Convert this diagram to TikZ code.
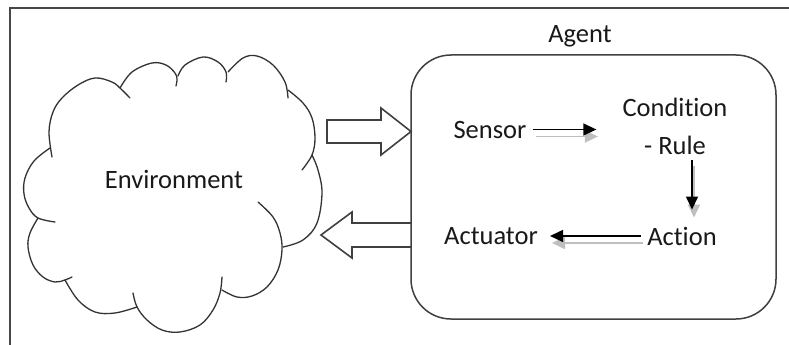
\documentclass[tikz,border=0pt]{standalone}
\usepackage{fontspec}
\setmainfont{Carlito}[Ligatures=NoCommon]
\usetikzlibrary{arrows.meta}
\begin{document}
\begin{tikzpicture}[x=1pt,y=-1pt,
  lbl/.style={font=\fontsize{26.5}{38}\selectfont, inner sep=6pt, text=black!90},
  puff/.style={line width=1.3pt, draw=black!80, line cap=round, smooth, tension=0.6},
  blockarrow/.style={line width=1.6pt, draw=black!75, line join=miter},
  flow/.style={line width=1.4pt, draw=black, -{Triangle[length=13pt,width=12pt]}},
  flowshadow/.style={line width=1.8pt, draw=black!25, -{Triangle[length=13pt,width=12pt]}},
]
\useasboundingbox (0,0) rectangle (789,345);
\fill[white] (0,0) rectangle (789,345);

% outer frame
\draw[line width=2.3pt, draw=black!72] (10,345) -- (10,8) -- (789,8);

% environment cloud, one stroke per puff
\draw[puff] plot coordinates {(55,222) (38,218) (29,208) (24,194) (25,178) (34,161) (50,148)};
\draw[puff] plot coordinates {(52,157) (49,132) (53,112) (62,98) (78,85) (95,78) (112,82) (121,89) (130,98)};
\draw[puff] plot coordinates {(120,88) (132,72) (152,63) (166,65) (175,73) (177,79) (176,86)};
\draw[puff] plot coordinates {(178,76) (185,65) (203,57) (218,62) (226,72) (226,82)};
\draw[puff] plot coordinates {(228,72) (243,58) (257,56) (273,65) (285,82) (288,98)};
\draw[puff] plot coordinates {(288,90) (303,103) (312,118) (315,138) (312,155) (302,170)};
\draw[puff] plot coordinates {(312,155) (318,170) (322,193) (317,223) (303,240) (283,247)};
\draw[puff] plot coordinates {(258,202) (273,217) (280,233) (282,250) (278,270) (267,287) (252,296) (237,297) (222,290)};
\draw[puff] plot coordinates {(222,277) (220,293) (213,310) (200,325) (180,332) (162,330) (147,320) (137,307) (133,293)};
\draw[puff] plot coordinates {(137,307) (115,313) (95,312) (78,300) (65,280)};
\draw[puff] plot coordinates {(38,218) (30,233) (28,247) (33,265) (43,277) (55,282) (65,280) (72,277)};
\node[lbl, anchor=base] (env) at (174,188) {Environment};

% agent box
\draw[line width=1.5pt, draw=black!75, rounded corners=40pt] (411,55) rectangle (776,319);
\node[lbl, anchor=base] (agent) at (580,43) {Agent};

% percepts into the agent, actions out of it
\draw[blockarrow] (327,120) -- (381,120) -- (381,108) -- (411,131.5) -- (381,155) -- (381,143) -- (327,143) -- cycle;
\draw[blockarrow] (411,223) -- (352,223) -- (352,212) -- (321,235) -- (352,258) -- (352,247) -- (411,247);

% inner components
\node[lbl, anchor=base] (sensor) at (490,138) {Sensor};
\node[lbl, anchor=base, align=center] (cond) at (675,154) {Condition\\- Rule};
\node[lbl, anchor=base] (action) at (682,245) {Action};
\node[lbl, anchor=base] (actuator) at (491,244) {Actuator};

% inner flow with soft shadows
\draw[flowshadow, shorten >=20pt, shorten <=2pt] ([shift={(1.5,7)}]sensor.east) -- ([shift={(1.5,7)}]sensor.east -| cond.west);
\draw[flow, shorten >=20pt] (sensor.east) -- (sensor.east -| cond.west);

\draw[flowshadow, shorten >=9pt] ([shift={(19,6)}]cond.south) -- ([shift={(12,6)}]action.north);
\draw[flow, shorten >=11pt] ([xshift=17pt]cond.south) -- ([xshift=10pt]action.north);

\draw[flowshadow, shorten >=6pt] ([shift={(2,7)}]action.west) -- ([shift={(2,7)}]action.west -| actuator.east);
\draw[flow, shorten >=6pt] (action.west) -- (action.west -| actuator.east);
\end{tikzpicture}
\end{document}
